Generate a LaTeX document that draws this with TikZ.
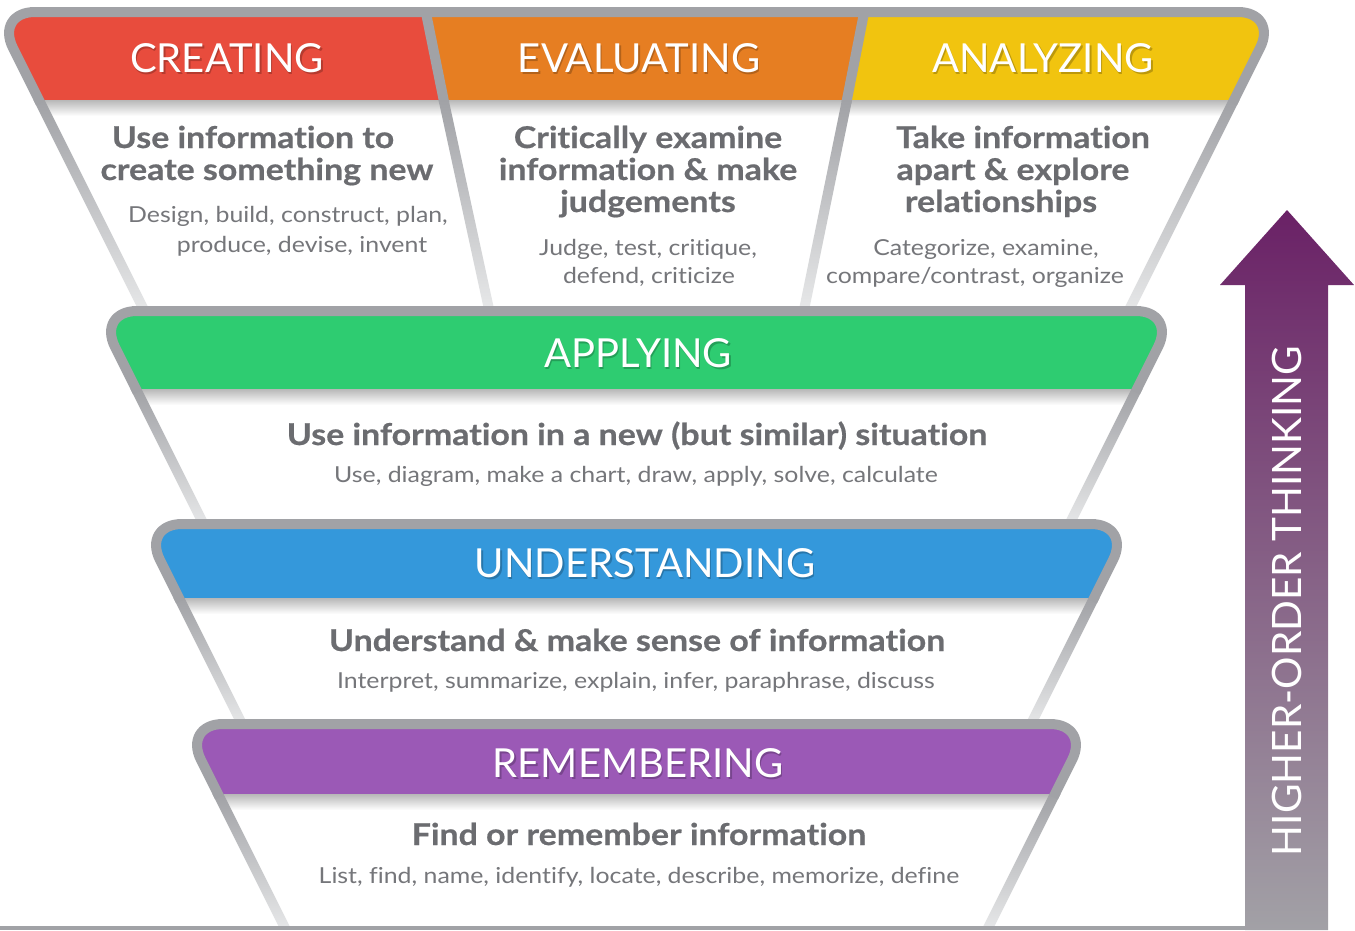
\documentclass[tikz,border=0pt]{standalone}
\usepackage{fontspec}
\setmainfont{Lato}
\newfontfamily\bodyfont[FakeStretch=1.13, Ligatures=NoCommon, BoldFeatures={FakeBold=0.6}]{Lato}
\definecolor{cred}{HTML}{E84C3D}
\definecolor{corange}{HTML}{E67E22}
\definecolor{cyellow}{HTML}{F1C40F}
\definecolor{cgreen}{HTML}{2ECC71}
\definecolor{cblue}{HTML}{3498DB}
\definecolor{cpurple}{HTML}{9B59B6}
\definecolor{bordergray}{HTML}{A1A2A6}
\definecolor{fadegray}{HTML}{E6E7E8}
\definecolor{textgray}{HTML}{6B6C70}
\definecolor{subgray}{HTML}{75767A}
\definecolor{arrowtop}{HTML}{6A2166}
\definecolor{arrowbot}{HTML}{A2A1A6}
\newcommand\drawtier[6]{%
  % #1 yt, #2 half width at top, #3 band bottom, #4 bottom, #5 band code, #6 extra code
  \pgfmathsetmacro\xLt{636.5-#2}%
  \pgfmathsetmacro\xRt{636.5+#2}%
  \pgfmathsetmacro\xLbb{636.5-#2+0.5*(#3-#1)}%
  \pgfmathsetmacro\xRbb{636.5+#2-0.5*(#3-#1)}%
  \pgfmathsetmacro\xLb{636.5-#2+0.5*(#4-#1)}%
  \pgfmathsetmacro\xRb{636.5+#2-0.5*(#4-#1)}%
  \pgfmathsetmacro\xLbx{636.5-#2+0.5*(#3+3-#1)}%
  \pgfmathsetmacro\xRbx{636.5+#2-0.5*(#3+3-#1)}%
  \begin{scope}
    \clip (0,#1-10) rectangle (1355,#3);
    \clip[rounded corners=40] (\xLb,#4) -- (\xLt,#1) -- (\xRt,#1) -- (\xRb,#4) -- cycle;
    #5
  \end{scope}
  \begin{scope}
    \clip (\xLb,#4) -- (\xLt,#1) -- (\xRt,#1) -- (\xRb,#4) -- cycle;
    \shade[top color=black!28, bottom color=white] (0,#3) rectangle (1355,#3+16);
  \end{scope}
  #6
  \shade[top color=bordergray, bottom color=fadegray]
    (\xLbb-5.6,#3) -- (\xLbb+5.6,#3) -- (\xLb+5.6,#4) -- (\xLb-5.6,#4) -- cycle;
  \shade[top color=bordergray, bottom color=fadegray]
    (\xRbb-5.6,#3) -- (\xRbb+5.6,#3) -- (\xRb+5.6,#4) -- (\xRb-5.6,#4) -- cycle;
  \draw[bordergray, line width=10, rounded corners=40]
    (\xLbx,#3+3) -- (\xLt,#1) -- (\xRt,#1) -- (\xRbx,#3+3);
}
\tikzset{
  hdr/.style={anchor=base, inner sep=0, text=white, font=\fontsize{40}{40}\selectfont},
  hdrsh/.style={anchor=base, inner sep=0, text=black, opacity=0.22, font=\fontsize{40}{40}\selectfont},
  main/.style={anchor=base, inner sep=0, text=textgray, font=\bodyfont\bfseries\fontsize{30}{32}\selectfont},
  sub/.style={anchor=base, inner sep=0, text=subgray, font=\bodyfont\fontsize{22}{30}\selectfont},
}
\begin{document}
\begin{tikzpicture}[x=1pt,y=-1pt]
\useasboundingbox (0,0) rectangle (1355,930);
\fill[white] (0,0) rectangle (1355,930);
% Tier 1
\drawtier{12}{641.5}{100}{311}{%
  \fill[cred] (0,0) -- (422.5,0) -- (447.9,120) -- (0,120) -- cycle;
  \fill[corange] (422.5,0) -- (867.5,0) -- (842.9,120) -- (447.9,120) -- cycle;
  \fill[cyellow] (867.5,0) -- (1355,0) -- (1355,120) -- (842.9,120) -- cycle;
}{%
  \draw[bordergray, line width=10] (425,8) -- (444.3,103);
  \shade[top color=bordergray, bottom color=fadegray]
    (443.6-5.1,100) -- (443.6+5.1,100) -- (488.3+5.1,306) -- (488.3-5.1,306) -- cycle;
  \draw[bordergray, line width=10] (865,8) -- (846.3,103);
  \shade[top color=bordergray, bottom color=fadegray]
    (847-5.1,100) -- (847+5.1,100) -- (804.8+5.1,306) -- (804.8-5.1,306) -- cycle;
}
% Tier 2
\drawtier{311}{539.5}{389}{524}{\fill[cgreen] (0,0) rectangle (1355,930);}{}
% Tier 3
\drawtier{524}{494.5}{598}{724}{\fill[cblue] (0,0) rectangle (1355,930);}{}
% Tier 4
\drawtier{724}{453.5}{794}{928}{\fill[cpurple] (0,0) rectangle (1355,930);}{}
% bottom line
\draw[bordergray, line width=4] (0,928) -- (1245,928);
% arrow
\shade[top color=arrowtop, bottom color=arrowbot]
  (1287,210) -- (1354,285) -- (1328,285) -- (1328,930) -- (1245,930) -- (1245,285) -- (1220,285) -- cycle;
\node[rotate=90, inner sep=0, text=white, font=\fontsize{40.5}{40}\selectfont] (hot) at (1287,601) {HIGHER-ORDER THINKING};
% headers
\node[hdrsh] (h1s) at (228.5,74.5) {CREATING};
\node[hdr] (h1) at (227,72) {CREATING};
\node[hdrsh] (h2s) at (640.5,74.5) {EVALUATING};
\node[hdr] (h2) at (639,72) {EVALUATING};
\node[hdrsh] (h3s) at (1044.5,74.5) {ANALYZING};
\node[hdr] (h3) at (1043,72) {ANALYZING};
\node[hdrsh] (h4s) at (639.5,369.5) {APPLYING};
\node[hdr] (h4) at (638,367) {APPLYING};
\node[hdrsh] (h5s) at (646.5,579.5) {UNDERSTANDING};
\node[hdr] (h5) at (645,577) {UNDERSTANDING};
\node[hdrsh] (h6s) at (639.5,779.5) {REMEMBERING};
\node[hdr] (h6) at (638,777) {REMEMBERING};
% creating
\node[main] (c1) at (253,148) {Use information to};
\node[main] (c2) at (267,180) {create something new};
\node[sub] (c3) at (288,222) {Design, build, construct, plan,};
\node[sub] (c4) at (302,252) {produce, devise, invent};
% evaluating
\node[main] (e1) at (648,148) {Critically examine};
\node[main] (e2) at (648,180) {information \& make};
\node[main] (e3) at (648,212) {judgements};
\node[sub] (e4) at (648,255) {Judge, test, critique,};
\node[sub] (e5) at (649,283) {defend, criticize};
% analyzing
\node[main] (a1) at (1023,148) {Take information};
\node[main] (a2) at (1013,180) {apart \& explore};
\node[main] (a3) at (1001,212) {relationships};
\node[sub] (a4) at (986,255) {Categorize, examine,};
\node[sub] (a5) at (975,283) {compare/contrast, organize};
% applying
\node[main] (p1) at (637,445) {Use information in a new (but similar) situation};
\node[sub] (p2) at (636,482) {Use, diagram, make a chart, draw, apply, solve, calculate};
% understanding
\node[main] (u1) at (637,651) {Understand \& make sense of information};
\node[sub] (u2) at (636,688) {Interpret, summarize, explain, infer, paraphrase, discuss};
% remembering
\node[main] (r1) at (639,845) {Find or remember information};
\node[sub] (r2) at (639,883) {List, find, name, identify, locate, describe, memorize, define};
\end{tikzpicture}
\end{document}
